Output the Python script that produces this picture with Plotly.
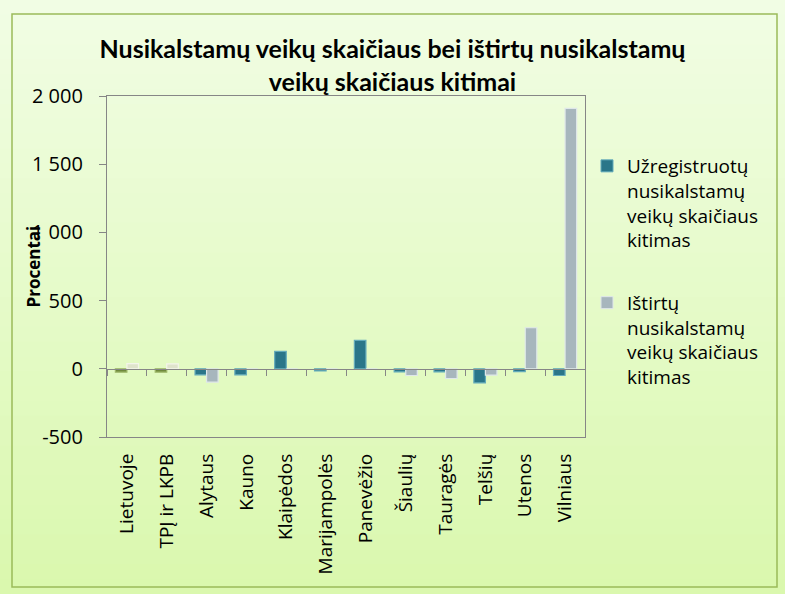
import plotly.graph_objects as go

categories = ["Lietuvoje", "TPĮ ir LKPB", "Alytaus", "Kauno", "Klaipėdos", "Marijampolės",
              "Panevėžio", "Šiaulių", "Tauragės", "Telšių", "Utenos", "Vilniaus"]
registered = [-25, -25, -44, -44, 128, -15, 208, -22, -22, -103, -20, -49]
investigated = [38, 36, -98, 0, 0, 0, 0, -49, -71, -46, 301, 1910]
series_names = ["Užregistruotų<br>nusikalstamų<br>veikų skaičiaus<br>kitimas",
                "Ištirtų<br>nusikalstamų<br>veikų skaičiaus<br>kitimas"]
y_tick_values = [-500, 0, 500, 1000, 1500, 2000]
y_tick_labels = ["-500", "0", "500", "1 000", "1 500", "2 000"]
title_text = "Nusikalstamų veikų skaičiaus bei ištirtų nusikalstamų<br>veikų skaičiaus kitimai"
y_title = "Procentai"

W, H = 785, 594
L, R, T, B = 107, 585, 96, 437
TEAL, TEAL_LINE = "#2a7689", "#62aabb"
SILVER, SILVER_LINE = "#a7b6bd", "#dfe7ea"
OLIVE, OLIVE_LINE = "#6f8a3c", "#9fb86a"
BEIGE, BEIGE_LINE = "#dfe4cb", "#f3f5ea"

c1 = [OLIVE if i < 2 else TEAL for i in range(len(categories))]
l1 = [OLIVE_LINE if i < 2 else TEAL_LINE for i in range(len(categories))]
c2 = [BEIGE if i < 2 else SILVER for i in range(len(categories))]
l2 = [BEIGE_LINE if i < 2 else SILVER_LINE for i in range(len(categories))]

def px2x(px):
    return (px - L) / (R - L)

def px2y(py):
    return (B - py) / (B - T)

fig = go.Figure()
fig.add_trace(go.Bar(x=categories, y=registered, marker=dict(color=c1, line=dict(color=l1, width=1.2)),
                     showlegend=False, name="s1"))
fig.add_trace(go.Bar(x=categories, y=investigated, marker=dict(color=c2, line=dict(color=l2, width=1.2)),
                     showlegend=False, name="s2"))
# legend entries (on overlay axis so they don't take bar slots)
fig.add_trace(go.Bar(x=categories, y=[None] * len(categories), xaxis="x2", name=series_names[0],
                     marker=dict(color=TEAL, line=dict(color=TEAL_LINE, width=1)),
                     legendgroup="a", showlegend=True))
fig.add_trace(go.Bar(x=categories, y=[None] * len(categories), xaxis="x2", name=series_names[1],
                     marker=dict(color=SILVER, line=dict(color=SILVER_LINE, width=1)),
                     legendgroup="b", showlegend=True))

# background gradient bands
shapes = []
n = 40
top = (0xf1, 0xfd, 0xe4)
bot = (0xda, 0xf8, 0xae)
for i in range(n):
    t = i / (n - 1)
    col = tuple(int(round(top[k] + (bot[k] - top[k]) * t)) for k in range(3))
    ya = H * i / n
    yb = H * (i + 1) / n + 1
    shapes.append(dict(type="rect", xref="paper", yref="paper", layer="below",
                       x0=px2x(0), x1=px2x(W), y0=px2y(yb), y1=px2y(ya),
                       fillcolor="rgb(%d,%d,%d)" % col, line=dict(width=0)))
# green frame
shapes.append(dict(type="rect", xref="paper", yref="paper", layer="above",
                   x0=px2x(12), x1=px2x(777), y0=px2y(587), y1=px2y(14),
                   line=dict(color="#9bbb59", width=1.5), fillcolor="rgba(0,0,0,0)"))

fig.update_layout(
    width=W, height=H,
    margin=dict(l=L, r=W - R, t=T, b=H - B, pad=0),
    paper_bgcolor="#e6fbcb",
    plot_bgcolor="white",
    barmode="group",
    bargap=0.42,
    bargroupgap=0,
    font=dict(family="Open Sans, sans-serif", color="black", size=17),
    title=dict(text="<b>" + title_text + "</b>", x=0.5, xref="container", xanchor="center",
               y=1 - 58 / H, yref="container", yanchor="middle",
               font=dict(family="Lato, sans-serif", size=25, color="black")),
    xaxis=dict(type="category", showline=True, linecolor="#868686", linewidth=1.2, mirror=True,
               ticks="", tickangle=-90, tickfont=dict(size=19), ticklabelstandoff=8,
               showgrid=False, zeroline=False),
    xaxis2=dict(type="category", overlaying="x", matches="x", anchor="free", position=0.2,
                showline=True, linecolor="#868686", linewidth=1.2, ticks="outside",
                tickson="boundaries", ticklen=6, tickcolor="#868686", tickwidth=1.2,
                showticklabels=False, showgrid=False, zeroline=False),
    yaxis=dict(range=[-500, 2000], tickmode="array", tickvals=y_tick_values, ticktext=y_tick_labels,
               showline=True, linecolor="#868686", linewidth=1.2, mirror=True,
               ticks="outside", ticklen=7, tickcolor="#868686", tickwidth=1.2,
               tickfont=dict(size=20), ticklabelstandoff=12,
               showgrid=False, zeroline=False),
    legend=dict(x=px2x(587), y=px2y(147), xanchor="left", yanchor="top",
                bgcolor="rgba(0,0,0,0)", font=dict(size=19), valign="top",
                traceorder="grouped", tracegroupgap=35, itemwidth=30),
    shapes=shapes,
    annotations=[dict(text="<b>" + y_title + "</b>", xref="paper", yref="paper",
                      x=px2x(33), y=0.5, xanchor="center", yanchor="middle",
                      textangle=-90, showarrow=False,
                      font=dict(family="Open Sans, sans-serif", size=17, color="black"))],
)

fig.write_html("out.html", config={"displayModeBar": False},
               post_script="document.body.style.margin='0';document.body.style.padding='0';")
